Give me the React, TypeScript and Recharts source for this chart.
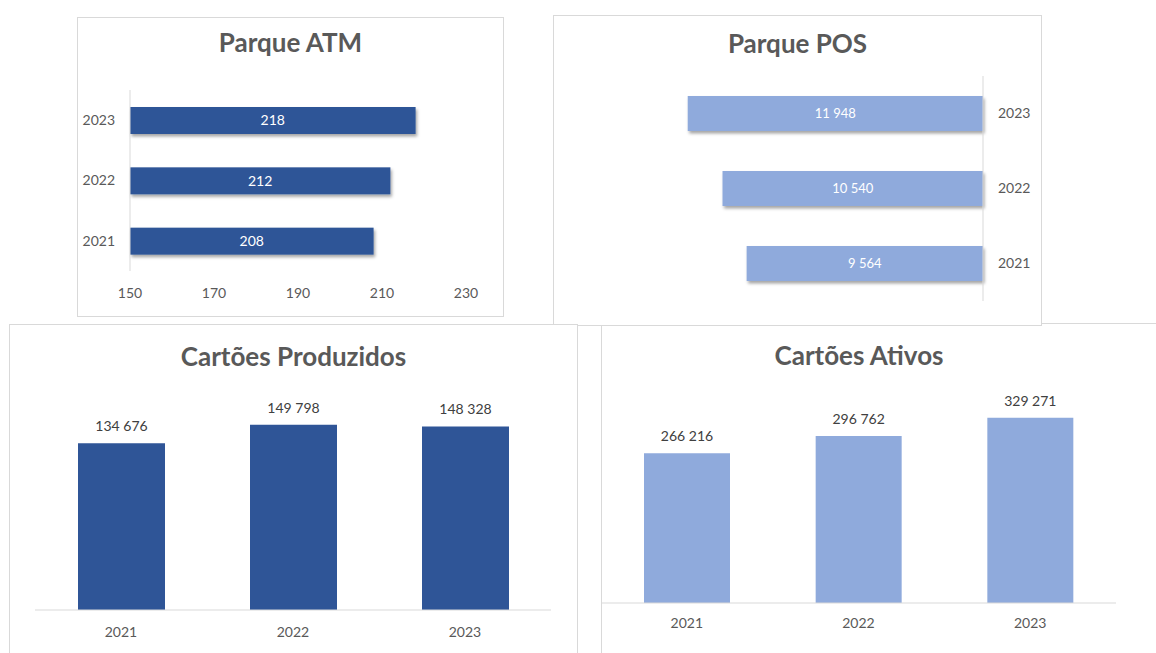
import React from 'react';
import { BarChart, Bar, XAxis, YAxis, LabelList } from 'recharts';

// fonte e cores
const FONT = 'Lato, "Open Sans", sans-serif';
const DARK = '#2F5597';
const LIGHT = '#8FAADC';
const GREY_TXT = '#595959';
const LINE = '#d9d9d9';

const years = ['2021', '2022', '2023'];
const atmValues = [208, 212, 218];
const posValues = [9564, 10540, 11948];
const producedValues = [134676, 149798, 148328];
const activeValues = [266216, 296762, 329271];
const atmTicks = [150, 170, 190, 210, 230];

// separador de milhar com espaço (não quebrável, para o Text não partir a linha)
const fmt = (v: number) => String(v).replace(/\B(?=(\d{3})+(?!\d))/g, '\u00a0');
const toRows = (vals: number[]) => years.map((year, i) => ({ year, value: vals[i] }));

const Panel: React.FC<{ left: number; top: number; width: number; height: number; children?: React.ReactNode }> = ({ left, top, width, height, children }) => (
  <div style={{ position: 'absolute', left, top, width, height, background: '#fff', boxShadow: `inset 0 0 0 1px ${LINE}` }}>
    {children}
  </div>
);

const Title: React.FC<{ text: string; left: number; top: number; width: number; size: number }> = ({ text, left, top, width, size }) => (
  <div style={{ position: 'absolute', left, top, width, textAlign: 'center', fontFamily: FONT, fontWeight: 700, fontSize: size, lineHeight: 1, color: GREY_TXT }}>
    {text}
  </div>
);

// barra com sombra (largura pode vir negativa com eixo invertido)
const shadowBar = (id: string) => (p: any) => {
  const x = p.width < 0 ? p.x + p.width : p.x;
  const y = p.height < 0 ? p.y + p.height : p.y;
  return <rect x={x} y={y} width={Math.abs(p.width)} height={Math.abs(p.height)} fill={p.fill} filter={`url(#${id})`} />;
};

const Shadow: React.FC<{ id: string }> = ({ id }) => (
  <defs>
    <filter id={id} x="-10%" y="-30%" width="130%" height="180%">
      <feDropShadow dx="1.5" dy="2.5" stdDeviation="1.8" floodColor="#000" floodOpacity="0.35" />
    </filter>
  </defs>
);

const tickStyle = { fill: GREY_TXT, fontSize: 14, fontFamily: FONT };

export default function App() {
  return (
    <div style={{ position: 'absolute', left: 0, top: 0, width: 1156, height: 653, overflow: 'hidden', background: '#fff' }}>
      {/* Parque ATM */}
      <Panel left={77} top={17} width={427} height={300}>
        <Title text="Parque ATM" left={0} top={12} width={427} size={26} />
        <div style={{ position: 'absolute', left: 0, top: 0 }}>
          <BarChart width={427} height={300} data={toRows(atmValues)} layout="vertical" margin={{ top: 73, right: 38, bottom: 16, left: 0 }}>
            <Shadow id="shAtm" />
            <XAxis type="number" domain={[150, 230]} ticks={atmTicks} axisLine={false} tickLine={false} tickMargin={11} height={30} tick={tickStyle} />
            <YAxis type="category" dataKey="year" reversed width={53} axisLine={{ stroke: LINE }} tickLine={false} tickMargin={9} tick={tickStyle} />
            <Bar dataKey="value" fill={DARK} barSize={27} isAnimationActive={false} shape={shadowBar('shAtm')}>
              <LabelList dataKey="value" position="center" fill="#fff" fontSize={14} fontFamily={FONT} />
            </Bar>
          </BarChart>
        </div>
      </Panel>

      {/* Cartões Ativos */}
      <Panel left={601} top={323} width={560} height={340}>
        <Title text="Cartões Ativos" left={0} top={19} width={516} size={26} />
        <div style={{ position: 'absolute', left: 0, top: 0 }}>
          <BarChart width={555} height={330} data={toRows(activeValues)} margin={{ top: 83, right: 40, bottom: 20, left: 0 }}>
            <XAxis dataKey="year" axisLine={{ stroke: LINE }} tickLine={false} tickMargin={9} height={30} tick={tickStyle} />
            <YAxis hide domain={[0, 350000]} />
            <Bar dataKey="value" fill={LIGHT} barSize={86} isAnimationActive={false}>
              <LabelList dataKey="value" position="top" offset={12} formatter={(v: any) => fmt(Number(v))} fill="#404040" fontSize={14} fontFamily={FONT} />
            </Bar>
          </BarChart>
        </div>
      </Panel>

      {/* Parque POS */}
      <Panel left={553} top={15} width={489} height={311}>
        <Title text="Parque POS" left={0} top={15} width={489} size={26} />
        <div style={{ position: 'absolute', left: 0, top: 0 }}>
          <BarChart width={489} height={311} data={toRows(posValues)} layout="vertical" margin={{ top: 61, right: 0, bottom: 25, left: 84 }}>
            <Shadow id="shPos" />
            <XAxis type="number" domain={[0, 14000]} reversed hide />
            <YAxis type="category" dataKey="year" orientation="right" reversed width={59} axisLine={{ stroke: LINE }} tickLine={false} tickMargin={9} tick={tickStyle} />
            <Bar dataKey="value" fill={LIGHT} barSize={35} isAnimationActive={false} shape={shadowBar('shPos')}>
              <LabelList dataKey="value" position="center" formatter={(v: any) => fmt(Number(v))} fill="#fff" fontSize={13} fontFamily={FONT} />
            </Bar>
          </BarChart>
        </div>
      </Panel>

      {/* Cartões Produzidos */}
      <Panel left={9} top={324} width={569} height={340}>
        <Title text="Cartões Produzidos" left={0} top={19} width={569} size={26} />
        <div style={{ position: 'absolute', left: 0, top: 0 }}>
          <BarChart width={569} height={329} data={toRows(producedValues)} margin={{ top: 88, right: 27, bottom: 13, left: 26 }}>
            <XAxis dataKey="year" axisLine={{ stroke: LINE }} tickLine={false} tickMargin={11} height={30} tick={tickStyle} />
            <YAxis hide domain={[0, 160000]} />
            <Bar dataKey="value" fill={DARK} barSize={87} isAnimationActive={false}>
              <LabelList dataKey="value" position="top" offset={12} formatter={(v: any) => fmt(Number(v))} fill="#404040" fontSize={14} fontFamily={FONT} />
            </Bar>
          </BarChart>
        </div>
      </Panel>
    </div>
  );
}
